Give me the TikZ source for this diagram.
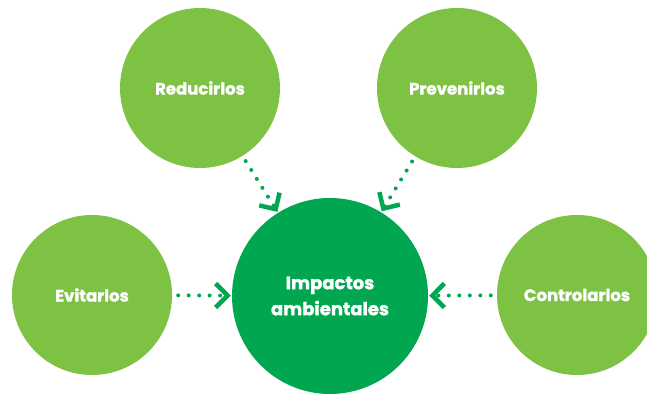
\documentclass[tikz,border=0pt]{standalone}
\usepackage{fontspec}
\setmainfont{Poppins}[BoldFeatures={FakeBold=1.5}]
\usetikzlibrary{arrows.meta}
\definecolor{lightg}{HTML}{7DC242}
\definecolor{darkg}{HTML}{00A650}
\begin{document}
\begin{tikzpicture}[x=1pt,y=1pt,
  small/.style={circle,fill=lightg,minimum size=160pt,inner sep=0pt,text=white,font=\bfseries\fontsize{16.5}{19}\selectfont},
  big/.style={circle,fill=darkg,minimum size=196pt,inner sep=0pt,text=white,align=center,font=\bfseries\fontsize{18}{22}\selectfont},
  conn/.style={darkg,line width=4pt,line cap=round,dash pattern=on 0pt off 10.5pt,shorten <=6pt,shorten >=1pt,
    -{Straight Barb[length=12pt,width=24pt,line width=4.5pt]}}
]
\useasboundingbox (0,0) rectangle (647,395);
\begin{scope}
\clip (0,0) rectangle (647,395);
\node[small] (red) at (200,307) {Reducirlos};
\node[small] (pre) at (457,307) {Prevenirlos};
\node[small] (evi) at (92,100) {Evitarlos};
\node[small] (con) at (577,100) {Controlarlos};
\node[big] (imp) at (330,99) {Impactos\\[4pt]ambientales};
\end{scope}
\draw[conn] (red) -- (imp);
\draw[conn] (pre) -- (imp);
\draw[conn] (evi) -- (imp);
\draw[conn] (con) -- (imp);
\end{tikzpicture}
\end{document}
